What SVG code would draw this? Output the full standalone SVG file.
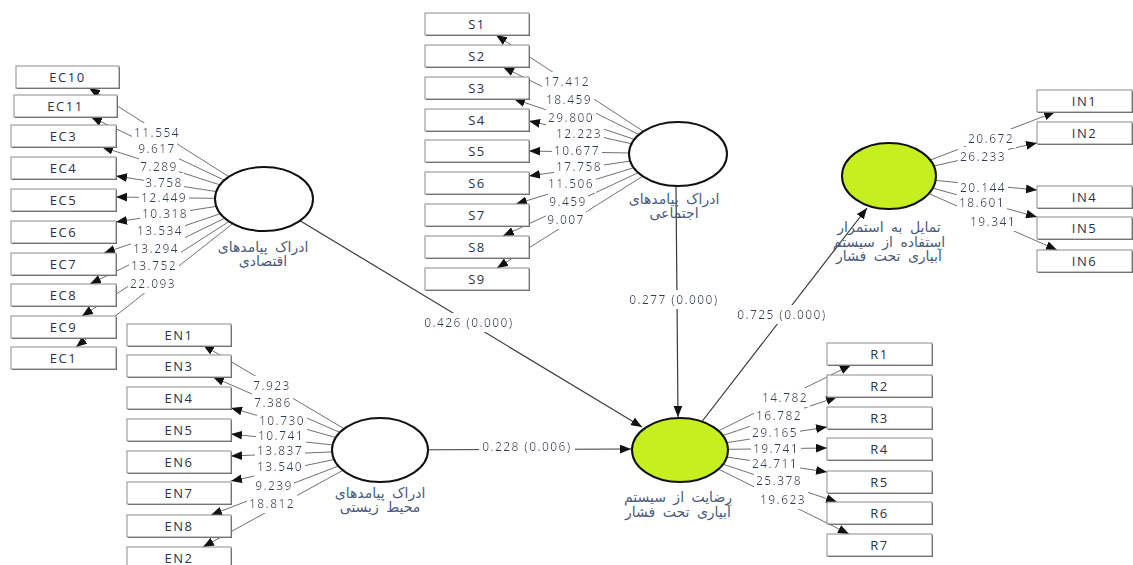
<svg xmlns="http://www.w3.org/2000/svg" width="1133" height="565" viewBox="0 0 1133 565">
  <defs>
    <marker id="ah" viewBox="0 0 10 8" refX="10" refY="4" markerWidth="11" markerHeight="9" markerUnits="userSpaceOnUse" orient="auto">
      <path d="M0,0 L10,4 L0,8 z" fill="#111"/>
    </marker>
    <!-- white plate behind value labels -->
    <filter id="bg" x="-0.03" y="-0.02" width="1.06" height="1.04">
      <feFlood flood-color="#fff"/>
      <feComposite in="SourceGraphic" operator="over"/>
    </filter>
    <style>
      .ind { stroke: #707070; stroke-width: 1; fill: none; }
      .str { stroke: #3a3a3a; stroke-width: 1.2; fill: none; }
      .num { font-family: "Open Sans", "DejaVu Sans", sans-serif; font-size: 12px; letter-spacing: 1.4px; fill: #2f3a55; text-anchor: middle; filter: url(#bg); }
      .box rect.sh { fill: #5a5a5a; }
      .box rect.bx { fill: #fff; stroke: #8c8c8c; stroke-width: 1; }
      .box text { font-family: "Open Sans", "DejaVu Sans", sans-serif; font-size: 13px; letter-spacing: 1.5px; fill: #28324d; text-anchor: middle; }
      .lv ellipse { stroke: #111; stroke-width: 2; }
      .lv .w { fill: #fff; }
      .lv .g { fill: #c6ef1f; }
      .fa { font-family: "DejaVu Sans", "Noto Sans", sans-serif; font-size: 14px; word-spacing: 3px; fill: #4a5a7c; text-anchor: middle; direction: rtl; }
    </style>
  </defs>
  <rect width="1133" height="565" fill="#fff"/>

  <!-- connectors: indicator loadings and structural paths -->
  <g id="connectors">
    <!-- economic construct -> EC indicators -->
    <g marker-end="url(#ah)" class="ind">
      <line x1="264" y1="199" x2="89" y2="88"/>
      <line x1="264" y1="199" x2="91" y2="117"/>
      <line x1="264" y1="199" x2="102" y2="147"/>
      <line x1="264" y1="199" x2="116" y2="176"/>
      <line x1="264" y1="199" x2="116" y2="197"/>
      <line x1="264" y1="199" x2="116" y2="222"/>
      <line x1="264" y1="199" x2="104" y2="253"/>
      <line x1="264" y1="199" x2="90" y2="284"/>
      <line x1="264" y1="199" x2="82" y2="316"/>
      <line x1="264" y1="199" x2="76" y2="347"/>
    </g>
    <!-- social construct -> S indicators -->
    <g marker-end="url(#ah)" class="ind">
      <line x1="678" y1="154" x2="496" y2="35"/>
      <line x1="678" y1="154" x2="503" y2="67"/>
      <line x1="678" y1="154" x2="514" y2="99"/>
      <line x1="678" y1="154" x2="529" y2="121"/>
      <line x1="678" y1="154" x2="529" y2="151"/>
      <line x1="678" y1="154" x2="529" y2="176"/>
      <line x1="678" y1="154" x2="516" y2="204"/>
      <line x1="678" y1="154" x2="503" y2="236"/>
      <line x1="678" y1="154" x2="497" y2="268"/>
    </g>
    <!-- environmental construct -> EN indicators -->
    <g marker-end="url(#ah)" class="ind">
      <line x1="380" y1="450" x2="203" y2="345"/>
      <line x1="380" y1="450" x2="213" y2="377"/>
      <line x1="380" y1="450" x2="231" y2="408"/>
      <line x1="380" y1="450" x2="231" y2="434"/>
      <line x1="380" y1="450" x2="231" y2="456"/>
      <line x1="380" y1="450" x2="231" y2="481"/>
      <line x1="380" y1="450" x2="211" y2="515"/>
      <line x1="380" y1="450" x2="203" y2="547"/>
    </g>
    <!-- satisfaction construct -> R indicators -->
    <g marker-end="url(#ah)" class="ind">
      <line x1="680" y1="450" x2="851" y2="365"/>
      <line x1="680" y1="450" x2="837" y2="397"/>
      <line x1="680" y1="450" x2="827" y2="427"/>
      <line x1="680" y1="450" x2="827" y2="448"/>
      <line x1="680" y1="450" x2="827" y2="472"/>
      <line x1="680" y1="450" x2="837" y2="502"/>
      <line x1="680" y1="450" x2="849" y2="534"/>
    </g>
    <!-- intention construct -> IN indicators -->
    <g marker-end="url(#ah)" class="ind">
      <line x1="889" y1="176" x2="1055" y2="112"/>
      <line x1="889" y1="176" x2="1037" y2="143"/>
      <line x1="889" y1="176" x2="1037" y2="190"/>
      <line x1="889" y1="176" x2="1037" y2="217"/>
      <line x1="889" y1="176" x2="1057" y2="250"/>
    </g>
    <!-- structural paths -->
    <g marker-end="url(#ah)" class="str">
      <line x1="264" y1="199" x2="642" y2="427"/>
      <line x1="380" y1="450" x2="631" y2="449"/>
      <line x1="676" y1="186" x2="678" y2="417"/>
      <line x1="680" y1="450" x2="867" y2="208"/>
    </g>

    <!-- loading values -->
    <g>
      <text class="num" x="157" y="137">11.554</text>
      <text class="num" x="157" y="153">9.617</text>
      <text class="num" x="159" y="171">7.289</text>
      <text class="num" x="164" y="186.5">3.758</text>
      <text class="num" x="164" y="202">12.449</text>
      <text class="num" x="165" y="217.5">10.318</text>
      <text class="num" x="160" y="235">13.534</text>
      <text class="num" x="156" y="253">13.294</text>
      <text class="num" x="154" y="270">13.752</text>
      <text class="num" x="153" y="288">22.093</text>

      <text class="num" x="567" y="86">17.412</text>
      <text class="num" x="569" y="104">18.459</text>
      <text class="num" x="571" y="122">29.800</text>
      <text class="num" x="579" y="138">12.223</text>
      <text class="num" x="577" y="155">10.677</text>
      <text class="num" x="579" y="171">17.758</text>
      <text class="num" x="571" y="188">11.506</text>
      <text class="num" x="568" y="206">9.459</text>
      <text class="num" x="566" y="224">9.007</text>

      <text class="num" x="272" y="390">7.923</text>
      <text class="num" x="273" y="407">7.386</text>
      <text class="num" x="282" y="425">10.730</text>
      <text class="num" x="281" y="440">10.741</text>
      <text class="num" x="280" y="455">13.837</text>
      <text class="num" x="280" y="471">13.540</text>
      <text class="num" x="274" y="490">9.239</text>
      <text class="num" x="272" y="508">18.812</text>

      <text class="num" x="785" y="402">14.782</text>
      <text class="num" x="779" y="420">16.782</text>
      <text class="num" x="775" y="437">29.165</text>
      <text class="num" x="776" y="453">19.741</text>
      <text class="num" x="775" y="468">24.711</text>
      <text class="num" x="779" y="485">25.378</text>
      <text class="num" x="783" y="504">19.623</text>

      <text class="num" x="991" y="143">20.672</text>
      <text class="num" x="983" y="161">26.233</text>
      <text class="num" x="983" y="192">20.144</text>
      <text class="num" x="982" y="207">18.601</text>
      <text class="num" x="993" y="226">19.341</text>

      <text class="num" x="469" y="327">0.426 (0.000)</text>
      <text class="num" x="527" y="451">0.228 (0.006)</text>
      <text class="num" x="674" y="304">0.277 (0.000)</text>
      <text class="num" x="782" y="319">0.725 (0.000)</text>
    </g>
  </g>

  <!-- indicator boxes -->
  <g id="EC10" class="box"><rect class="sh" x="17" y="67" width="103" height="22"/><rect class="bx" x="16" y="66" width="103" height="22"/><text x="67.5" y="81.5">EC10</text></g>
  <g id="EC11" class="box"><rect class="sh" x="15" y="96" width="103" height="22"/><rect class="bx" x="14" y="95" width="103" height="22"/><text x="65.5" y="110.5">EC11</text></g>
  <g id="EC3" class="box"><rect class="sh" x="12" y="126" width="105" height="22"/><rect class="bx" x="11" y="125" width="105" height="22"/><text x="63.5" y="140.5">EC3</text></g>
  <g id="EC4" class="box"><rect class="sh" x="12" y="158" width="105" height="22"/><rect class="bx" x="11" y="157" width="105" height="22"/><text x="63.5" y="172.5">EC4</text></g>
  <g id="EC5" class="box"><rect class="sh" x="12" y="190" width="105" height="22"/><rect class="bx" x="11" y="189" width="105" height="22"/><text x="63.5" y="204.5">EC5</text></g>
  <g id="EC6" class="box"><rect class="sh" x="12" y="222" width="105" height="22"/><rect class="bx" x="11" y="221" width="105" height="22"/><text x="63.5" y="236.5">EC6</text></g>
  <g id="EC7" class="box"><rect class="sh" x="12" y="254" width="105" height="22"/><rect class="bx" x="11" y="253" width="105" height="22"/><text x="63.5" y="268.5">EC7</text></g>
  <g id="EC8" class="box"><rect class="sh" x="12" y="285" width="105" height="22"/><rect class="bx" x="11" y="284" width="105" height="22"/><text x="63.5" y="299.5">EC8</text></g>
  <g id="EC9" class="box"><rect class="sh" x="12" y="317" width="105" height="22"/><rect class="bx" x="11" y="316" width="105" height="22"/><text x="63.5" y="331.5">EC9</text></g>
  <g id="EC1" class="box"><rect class="sh" x="12" y="348" width="105" height="22"/><rect class="bx" x="11" y="347" width="105" height="22"/><text x="63.5" y="362.5">EC1</text></g>

  <g id="S1" class="box"><rect class="sh" x="426" y="14" width="104" height="22"/><rect class="bx" x="425" y="13" width="104" height="22"/><text x="477" y="28.5">S1</text></g>
  <g id="S2" class="box"><rect class="sh" x="426" y="46" width="104" height="22"/><rect class="bx" x="425" y="45" width="104" height="22"/><text x="477" y="60.5">S2</text></g>
  <g id="S3" class="box"><rect class="sh" x="426" y="78" width="104" height="22"/><rect class="bx" x="425" y="77" width="104" height="22"/><text x="477" y="92.5">S3</text></g>
  <g id="S4" class="box"><rect class="sh" x="426" y="110" width="104" height="22"/><rect class="bx" x="425" y="109" width="104" height="22"/><text x="477" y="124.5">S4</text></g>
  <g id="S5" class="box"><rect class="sh" x="426" y="141" width="104" height="22"/><rect class="bx" x="425" y="140" width="104" height="22"/><text x="477" y="155.5">S5</text></g>
  <g id="S6" class="box"><rect class="sh" x="426" y="173" width="104" height="22"/><rect class="bx" x="425" y="172" width="104" height="22"/><text x="477" y="187.5">S6</text></g>
  <g id="S7" class="box"><rect class="sh" x="426" y="205" width="104" height="22"/><rect class="bx" x="425" y="204" width="104" height="22"/><text x="477" y="219.5">S7</text></g>
  <g id="S8" class="box"><rect class="sh" x="426" y="237" width="104" height="22"/><rect class="bx" x="425" y="236" width="104" height="22"/><text x="477" y="251.5">S8</text></g>
  <g id="S9" class="box"><rect class="sh" x="426" y="269" width="104" height="22"/><rect class="bx" x="425" y="268" width="104" height="22"/><text x="477" y="283.5">S9</text></g>

  <g id="EN1" class="box"><rect class="sh" x="128" y="325" width="104" height="22"/><rect class="bx" x="127" y="324" width="104" height="22"/><text x="179" y="339.5">EN1</text></g>
  <g id="EN3" class="box"><rect class="sh" x="128" y="356" width="104" height="22"/><rect class="bx" x="127" y="355" width="104" height="22"/><text x="179" y="370.5">EN3</text></g>
  <g id="EN4" class="box"><rect class="sh" x="128" y="388" width="104" height="22"/><rect class="bx" x="127" y="387" width="104" height="22"/><text x="179" y="402.5">EN4</text></g>
  <g id="EN5" class="box"><rect class="sh" x="128" y="420" width="104" height="22"/><rect class="bx" x="127" y="419" width="104" height="22"/><text x="179" y="434.5">EN5</text></g>
  <g id="EN6" class="box"><rect class="sh" x="128" y="452" width="104" height="22"/><rect class="bx" x="127" y="451" width="104" height="22"/><text x="179" y="466.5">EN6</text></g>
  <g id="EN7" class="box"><rect class="sh" x="128" y="483" width="104" height="22"/><rect class="bx" x="127" y="482" width="104" height="22"/><text x="179" y="497.5">EN7</text></g>
  <g id="EN8" class="box"><rect class="sh" x="128" y="516" width="104" height="22"/><rect class="bx" x="127" y="515" width="104" height="22"/><text x="179" y="530.5">EN8</text></g>
  <g id="EN2" class="box"><rect class="sh" x="128" y="548" width="104" height="22"/><rect class="bx" x="127" y="547" width="104" height="22"/><text x="179" y="562.5">EN2</text></g>

  <g id="R1" class="box"><rect class="sh" x="828" y="344" width="105" height="22"/><rect class="bx" x="827" y="343" width="105" height="22"/><text x="879.5" y="358.5">R1</text></g>
  <g id="R2" class="box"><rect class="sh" x="828" y="376" width="105" height="22"/><rect class="bx" x="827" y="375" width="105" height="22"/><text x="879.5" y="390.5">R2</text></g>
  <g id="R3" class="box"><rect class="sh" x="828" y="408" width="105" height="22"/><rect class="bx" x="827" y="407" width="105" height="22"/><text x="879.5" y="422.5">R3</text></g>
  <g id="R4" class="box"><rect class="sh" x="828" y="439" width="105" height="22"/><rect class="bx" x="827" y="438" width="105" height="22"/><text x="879.5" y="453.5">R4</text></g>
  <g id="R5" class="box"><rect class="sh" x="828" y="472" width="105" height="22"/><rect class="bx" x="827" y="471" width="105" height="22"/><text x="879.5" y="486.5">R5</text></g>
  <g id="R6" class="box"><rect class="sh" x="828" y="503" width="105" height="22"/><rect class="bx" x="827" y="502" width="105" height="22"/><text x="879.5" y="517.5">R6</text></g>
  <g id="R7" class="box"><rect class="sh" x="828" y="535" width="105" height="22"/><rect class="bx" x="827" y="534" width="105" height="22"/><text x="879.5" y="549.5">R7</text></g>

  <g id="IN1" class="box"><rect class="sh" x="1038" y="91" width="95" height="22"/><rect class="bx" x="1037" y="90" width="95" height="22"/><text x="1084.5" y="105.5">IN1</text></g>
  <g id="IN2" class="box"><rect class="sh" x="1038" y="123" width="95" height="22"/><rect class="bx" x="1037" y="122" width="95" height="22"/><text x="1084.5" y="137.5">IN2</text></g>
  <g id="IN4" class="box"><rect class="sh" x="1038" y="187" width="95" height="22"/><rect class="bx" x="1037" y="186" width="95" height="22"/><text x="1084.5" y="201.5">IN4</text></g>
  <g id="IN5" class="box"><rect class="sh" x="1038" y="218" width="95" height="22"/><rect class="bx" x="1037" y="217" width="95" height="22"/><text x="1084.5" y="232.5">IN5</text></g>
  <g id="IN6" class="box"><rect class="sh" x="1038" y="251" width="95" height="22"/><rect class="bx" x="1037" y="250" width="95" height="22"/><text x="1084.5" y="265.5">IN6</text></g>

  <!-- latent constructs -->
  <g id="economic" class="lv">
    <ellipse class="w" cx="264" cy="199" rx="49" ry="32"/>
    <text class="fa" x="263" y="252">ادراک پیامدهای</text>
    <text class="fa" x="263" y="266">اقتصادی</text>
  </g>
  <g id="social" class="lv">
    <ellipse class="w" cx="678" cy="154" rx="49" ry="32"/>
    <text class="fa" x="674" y="204">ادراک پیامدهای</text>
    <text class="fa" x="674" y="218">اجتماعی</text>
  </g>
  <g id="environmental" class="lv">
    <ellipse class="w" cx="380" cy="450" rx="48" ry="32"/>
    <text class="fa" x="380" y="498">ادراک پیامدهای</text>
    <text class="fa" x="380" y="512">محیط زیستی</text>
  </g>
  <g id="satisfaction" class="lv">
    <ellipse class="g" cx="680" cy="450" rx="48" ry="32"/>
    <text class="fa" x="678" y="502">رضایت از سیستم</text>
    <text class="fa" x="678" y="517">آبیاری تحت فشار</text>
  </g>
  <g id="intention" class="lv">
    <ellipse class="g" cx="889" cy="176" rx="47" ry="33"/>
    <text class="fa" x="889" y="232">تمایل به استمرار</text>
    <text class="fa" x="889" y="247">استفاده از سیستم</text>
    <text class="fa" x="889" y="261">آبیاری تحت فشار</text>
  </g>
</svg>
